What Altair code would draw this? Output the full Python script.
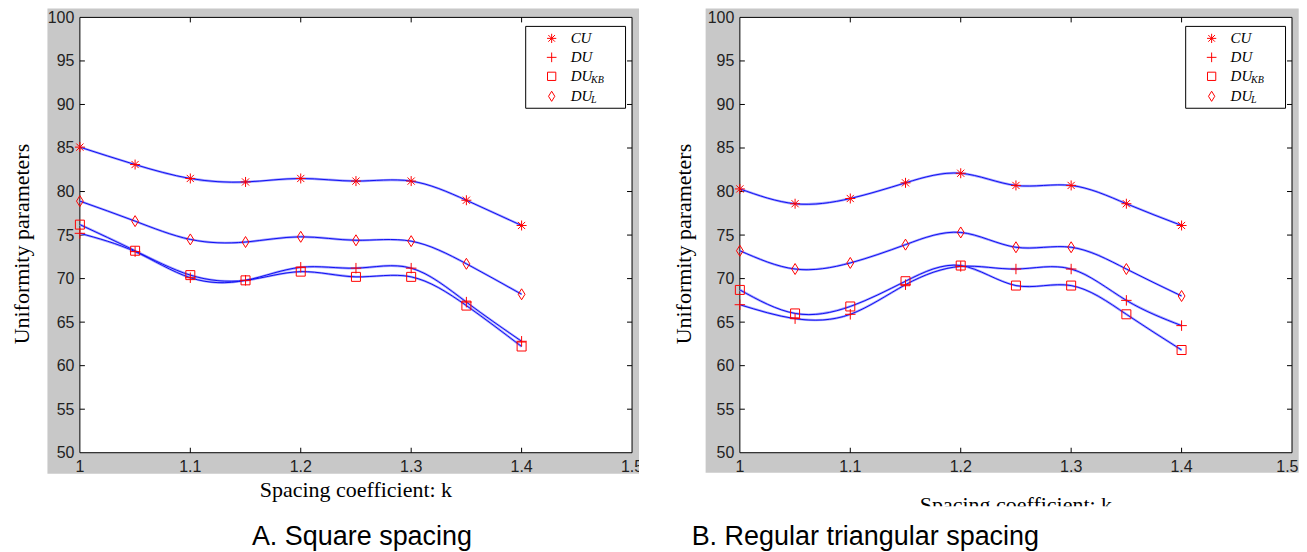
import altair as alt
import pandas as pd

# ---------------- data ----------------
K = [1.0, 1.05, 1.1, 1.15, 1.2, 1.25, 1.3, 1.35, 1.4]
SERIES = ["CU", "DU", "DU_KB", "DU_L"]

# A. Square spacing
A_CU = [85.1, 83.1, 81.5, 81.1, 81.5, 81.2, 81.2, 79.0, 76.1]
A_DU = [75.2, 73.1, 70.1, 69.8, 71.3, 71.2, 71.2, 67.3, 62.8]
A_DU_KB = [76.2, 73.2, 70.4, 69.8, 70.8, 70.2, 70.2, 66.9, 62.2]
A_DU_L = [78.9, 76.6, 74.5, 74.2, 74.8, 74.4, 74.3, 71.7, 68.2]

# B. Regular triangular spacing
B_CU = [80.3, 78.6, 79.2, 81.0, 82.1, 80.7, 80.7, 78.6, 76.1]
B_DU = [67.0, 65.4, 65.9, 69.3, 71.4, 71.1, 71.1, 67.5, 64.6]
B_DU_KB = [68.7, 66.0, 66.8, 69.7, 71.5, 69.2, 69.2, 65.9, 61.8]
B_DU_L = [73.2, 71.1, 71.8, 73.9, 75.3, 73.6, 73.6, 71.1, 68.0]

X_TICKS = [1.0, 1.1, 1.2, 1.3, 1.4]
X_TICK_LABELS = ["1", "1.1", "1.2", "1.3", "1.4"]
X_LAST_TICK = [1.5]
X_LAST_LABEL = ["1.5"]
Y_TICKS = [50, 55, 60, 65, 70, 75, 80, 85, 90, 95, 100]
INNER_X = [1.1, 1.2, 1.3, 1.4]
INNER_Y = [55, 60, 65, 70, 75, 80, 85, 90, 95]

LEGEND_MAIN = ["CU", "DU", "DU", "DU"]
LEGEND_SUB = ["", "", "KB", "L"]

X_TITLE = "Spacing coefficient: k"
Y_TITLE = "Uniformity parameters"

# ---------------- styling ----------------
W, H = 553, 436
SANS = "Liberation Sans"
SERIF = "Liberation Serif"
RED = "#ff0000"
GRAY = "#c8c8c8"

SHAPES = {
    "CU": "M-1,0L1,0M0,-1L0,1M-0.72,-0.72L0.72,0.72M-0.72,0.72L0.72,-0.72",
    "DU": "M-1,0L1,0M0,-1L0,1",
    "DU_KB": "M-1,-1L1,-1L1,1L-1,1Z",
    "DU_L": "M0,-1L0.62,0L0,1L-0.62,0Z",
}
SIZES = {"CU": 100, "DU": 110, "DU_KB": 81, "DU_L": 121}

xs = alt.Scale(domain=[1.0, 1.5], nice=False, zero=False)
ys = alt.Scale(domain=[50, 100], nice=False, zero=False)
Y_AXIS = alt.Axis(values=Y_TICKS, format="d", domain=False, ticks=False, tickSize=0,
                  grid=False, labelFont=SANS, labelFontSize=16, labelColor="#222222",
                  labelPadding=6, zindex=1, title=None)

ONE = pd.DataFrame({"a": [0]})


def vrect(x1, x2, y1, y2, **kw):
    return alt.Chart(ONE).mark_rect(**kw).encode(
        x=alt.value(x1), x2=alt.value(x2), y=alt.value(y1), y2=alt.value(y2))


def panel(cu, du, kb, dl, caption, cap_x, cap_align, ytitle_x, xtitle_y,
          anchor_x1, anchor_x2, gray_x1, gray_x2, gray_y2, clip, cover_title):
    rows = []
    for name, vals in zip(SERIES, [cu, du, kb, dl]):
        for k, v in zip(K, vals):
            rows.append({"series": name, "k": k, "v": v})
    df = pd.DataFrame(rows)

    layers = []
    layers.append(vrect(anchor_x1, anchor_x2, -8, 528, fill="white", strokeWidth=0))
    layers.append(vrect(gray_x1, gray_x2, -9, gray_y2, fill=GRAY, strokeWidth=0))
    layers.append(vrect(0, W, 0, H, fill="white", stroke="black", strokeWidth=1))

    xt = pd.DataFrame({"t": INNER_X})
    yt = pd.DataFrame({"t": INNER_Y})
    for y1, y2 in [(H, H - 5), (0, 5)]:
        layers.append(alt.Chart(xt).mark_rule(color="black", strokeWidth=1).encode(
            x=alt.X("t:Q", scale=xs, axis=None), y=alt.value(y1), y2=alt.value(y2)))
    for x1, x2 in [(0, 5), (W, W - 5)]:
        layers.append(alt.Chart(yt).mark_rule(color="black", strokeWidth=1).encode(
            y=alt.Y("t:Q", scale=ys, axis=Y_AXIS), x=alt.value(x1), x2=alt.value(x2)))

    # lines: light halo + blue core
    layers.append(alt.Chart(df).mark_line(interpolate="natural", color="#a4a4ff",
                                          strokeWidth=2.4).encode(
        x=alt.X("k:Q", scale=xs, axis=None), y=alt.Y("v:Q", scale=ys, axis=Y_AXIS),
        detail="series:N"))
    layers.append(alt.Chart(df).mark_line(interpolate="natural", color="#0000f0",
                                          strokeWidth=0.9).encode(
        x=alt.X("k:Q", scale=xs, axis=None), y=alt.Y("v:Q", scale=ys, axis=Y_AXIS),
        detail="series:N"))

    for name in SERIES:
        layers.append(alt.Chart(df[df.series == name]).mark_point(
            shape=SHAPES[name], size=SIZES[name], filled=False, color=RED,
            strokeWidth=1, opacity=1).encode(
            x=alt.X("k:Q", scale=xs, axis=None), y=alt.Y("v:Q", scale=ys, axis=Y_AXIS)))

    # x tick labels
    xl = pd.DataFrame({"t": X_TICKS, "lab": X_TICK_LABELS})
    layers.append(alt.Chart(xl).mark_text(font=SANS, fontSize=16, color="#222222",
                                          baseline="top", align="center").encode(
        x=alt.X("t:Q", scale=xs, axis=None), y=alt.value(H + 6), text="lab:N"))
    xl2 = pd.DataFrame({"t": X_LAST_TICK, "lab": X_LAST_LABEL})
    if clip:
        layers.append(alt.Chart(xl2).mark_text(font=SANS, fontSize=16, color="#222222",
                                               baseline="top", align="center").encode(
            x=alt.X("t:Q", scale=xs, axis=None), y=alt.value(H + 6), text="lab:N"))
        layers.append(vrect(gray_x2, gray_x2 + 25, H + 2, H + 24, fill="white", strokeWidth=0))
    else:
        layers.append(alt.Chart(xl2).mark_text(font=SANS, fontSize=16, color="#222222",
                                               baseline="top", align="right", dx=6.5).encode(
            x=alt.X("t:Q", scale=xs, axis=None), y=alt.value(H + 6), text="lab:N"))

    # legend
    layers.append(vrect(446.5, 546.5, 9, 91, fill="white", stroke="black", strokeWidth=1))
    row_y = [21, 40, 59, 79]
    for i, name in enumerate(SERIES):
        layers.append(alt.Chart(ONE).mark_point(
            shape=SHAPES[name], size=SIZES[name] * 0.85, filled=False, color=RED,
            strokeWidth=1, opacity=1).encode(x=alt.value(472.5), y=alt.value(row_y[i])))
        layers.append(alt.Chart(ONE).mark_text(
            text=LEGEND_MAIN[i], font=SERIF, fontStyle="italic", fontSize=15,
            align="left", baseline="middle", color="black").encode(
            x=alt.value(491.5), y=alt.value(row_y[i])))
        if LEGEND_SUB[i]:
            layers.append(alt.Chart(ONE).mark_text(
                text=LEGEND_SUB[i], font=SERIF, fontStyle="italic", fontSize=10,
                align="left", baseline="middle", color="black").encode(
                x=alt.value(512), y=alt.value(row_y[i] + 4)))

    # titles
    layers.append(alt.Chart(ONE).mark_text(
        text=Y_TITLE, font=SERIF, fontSize=22, angle=270, align="center",
        baseline="middle", color="black").encode(x=alt.value(ytitle_x), y=alt.value(227)))
    layers.append(alt.Chart(ONE).mark_text(
        text=X_TITLE, font=SERIF, fontSize=22, align="center",
        baseline="alphabetic", color="black").encode(x=alt.value(276.5), y=alt.value(xtitle_y)))
    if cover_title:
        layers.append(vrect(150, 420, xtitle_y - 6, xtitle_y + 10, fill="white", strokeWidth=0))
    layers.append(alt.Chart(ONE).mark_text(
        text=caption, font=SANS, fontSize=27, align=cap_align,
        baseline="alphabetic", color="black").encode(x=alt.value(cap_x), y=alt.value(528.6)))

    return alt.layer(*layers).properties(width=W, height=H)


left = panel(A_CU, A_DU, A_DU_KB, A_DU_L, "A. Square spacing", 282.5, "center",
             -57.5, 480.7, -71.5, 592.5, -32.5, 560.0, 457, True, False)
right = panel(B_CU, B_DU, B_DU_KB, B_DU_L, "B. Regular triangular spacing", -48.3, "left",
              -56.3, 495.7, -67.3, 559.7, -34.3, 559.7, 456, False, True)

chart = alt.hconcat(left, right, spacing=0).properties(
    padding=0, background="white").configure_view(stroke=None)

chart.save("out.html", embed_options={"renderer": "svg", "actions": False})
